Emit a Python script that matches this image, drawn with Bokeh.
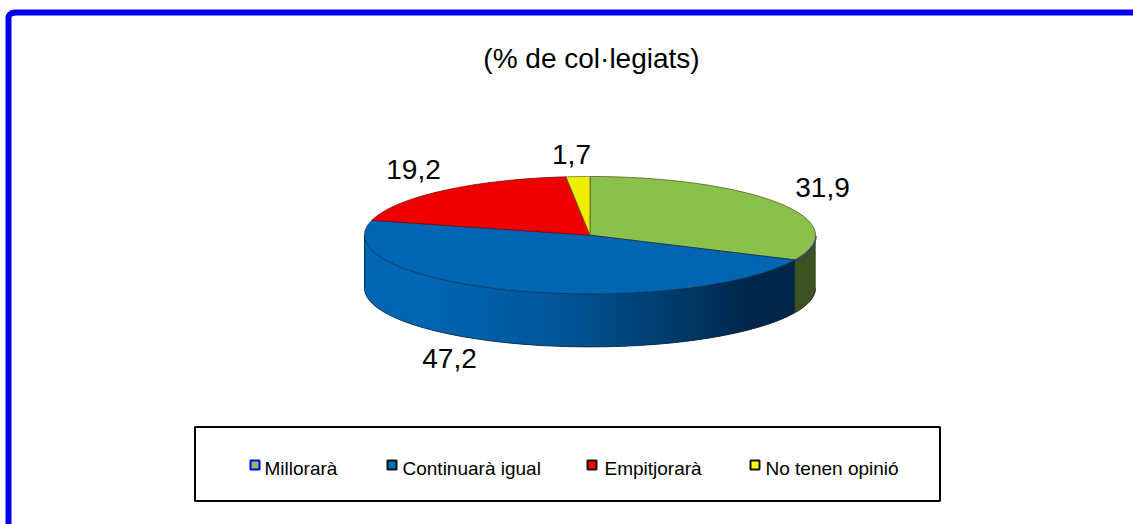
import numpy as np
from bokeh.plotting import figure
from bokeh.embed import file_html
from bokeh.resources import INLINE
from bokeh.core.properties import value

categories = ["Millorarà", "Continuarà igual", "Empitjorarà", "No tenen opinió"]
values = [31.9, 47.2, 19.2, 1.7]
value_labels = ["31,9", "47,2", "19,2", "1,7"]
title = "(% de col·legiats)"
top_colors = ["#8AC04C", "#0066B3", "#EE0000", "#EEEE00"]
swatch_colors = ["#8AC04C", "#0070C0", "#FF0000", "#FFFF00"]
swatch_lines = ["#0000FF", "#111111", "#111111", "#111111"]

W, H = 1133, 524
CX, CY, RX, RY, DEPTH = 589.5, 234.7, 225.5, 58.7, 53

p = figure(width=W, height=H, x_range=(0, W), y_range=(H, 0), output_backend="svg",
           toolbar_location=None, min_border=0, outline_line_color=None,
           background_fill_color="white", border_fill_color="white")
p.styles = {"position": "absolute", "left": "0px", "top": "0px"}
p.axis.visible = False
p.grid.visible = False

# outer frame
p.line([8, 8, 8.8, 11, 15, W], [H, 17, 14.5, 12.8, 12, 12], line_color="#0000F0", line_width=6,
       line_join="round")


def ell(t):
    r = np.radians(t)
    return CX + RX * np.sin(r), CY - RY * np.cos(r)


def mix(a, b, f):
    c = [int(round(a[i] + (b[i] - a[i]) * f)) for i in range(3)]
    return "#%02x%02x%02x" % tuple(c)


edges = np.concatenate([[0], np.cumsum(values)]) * 3.6

# walls: green part (front right)
t = np.linspace(90, edges[1], 30)
ex, ey = ell(t)
p.patch(np.r_[ex, ex[::-1]], np.r_[ey, (ey + DEPTH)[::-1]], fill_color="#3C5220", line_color="#3C5220", line_width=0.5)
p.line(ex + 0.8, ey + 0.8, line_color="#3030E0", line_width=1)

# walls: blue part with shading, by overlapping narrow strips
LEFT, MID, RIGHT = (0, 102, 178), (0, 84, 150), (0, 38, 72)
ts = np.arange(edges[1], 270.01, 1.5)
for a, b in zip(ts[:-1], ts[1:]):
    tt = np.linspace(a, min(b + 2.5, 270), 5)
    ex, ey = ell(tt)
    xm = (ell((a + b) / 2)[0] - (CX - RX)) / (2 * RX)
    if xm > 0.45:
        col = mix(MID, RIGHT, min((xm - 0.45) / 0.42, 1))
    else:
        col = mix(LEFT, MID, max((xm - 0.15) / 0.30, 0))
    p.patch(np.r_[ex, ex[::-1]], np.r_[ey, (ey + DEPTH)[::-1]], fill_color=col, line_color=None)

# wall outline
t = np.linspace(90, 270, 120)
ex, ey = ell(t)
p.line(ex, ey + DEPTH, line_color="#1a2a3a", line_width=1, line_alpha=0.8)
xl, yl = ell(270)
p.line([xl, xl], [yl, yl + DEPTH], line_color="#00304f", line_width=1)
xg, yg = ell(edges[1])
p.line([xg, xg], [yg, yg + DEPTH], line_color="#1a2a3a", line_width=1)

# top face slices
for i in range(len(values)):
    t = np.linspace(edges[i], edges[i + 1], 90)
    ex, ey = ell(t)
    p.patch(np.r_[CX, ex], np.r_[CY, ey], fill_color=top_colors[i],
            line_color="#14304a" if i == 1 else "#5a5a20" if i in (0, 3) else "#7a0000",
            line_width=0.8)

# data labels
lx = [822, 449, 413, 571]
ly = [187, 358, 169, 154]
p.text(lx, ly, text=value_labels, text_font=value("Liberation Sans"), text_font_size="28px",
       text_color="#000000", text_align="center", text_baseline="middle")

# title
p.text([591], [58], text=[title], text_font=value("Liberation Sans"), text_font_size="28px",
       text_color="#000000", text_align="center", text_baseline="middle")

# legend
p.quad(left=[194.5], right=[939.5], top=[426.5], bottom=[500.5], fill_color="white",
       line_color="#000000", line_width=2)
sw = [250, 387, 587, 750]
tx = [264, 402, 604, 765]
p.quad(left=sw, right=[s + 9 for s in sw], top=[460] * 4, bottom=[469] * 4,
       fill_color=swatch_colors, line_color=swatch_lines, line_width=2)
p.text(tx, [468] * 4, text=categories, text_font=value("Liberation Sans"), text_font_size="19px",
       text_color="#000000", text_align="left", text_baseline="middle")

open("out.html", "w").write(file_html(p, INLINE))
